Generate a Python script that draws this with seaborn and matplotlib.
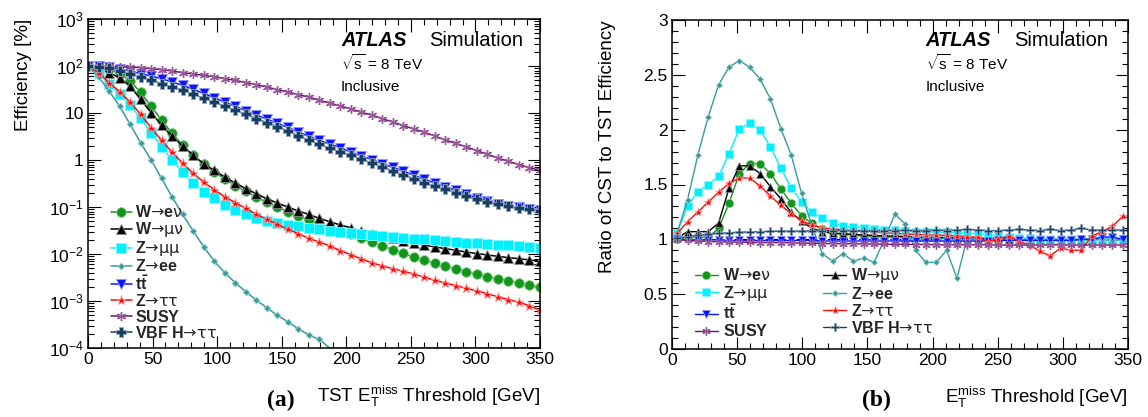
import numpy as np
import pandas as pd
import matplotlib
matplotlib.use("Agg")
import matplotlib.pyplot as plt
import matplotlib.colors as mcolors
from matplotlib.font_manager import FontProperties
import seaborn as sns
from matplotlib.ticker import MultipleLocator, LogLocator, FuncFormatter, NullFormatter

# ---------------- data ----------------
thresholds_a = np.arange(44) * 350 / 43          # TST threshold grid [GeV]
thresholds_b = (np.arange(44) + 0.5) * 350 / 44  # ratio-plot bin centres [GeV]

series_keys = ["wenu", "wmunu", "zmumu", "zee", "ttbar", "ztautau", "susy", "vbf"]
series_labels = [r"$\mathbf{W}$→$\mathbf{e}$ν", r"$\mathbf{W}$→μν", r"$\mathbf{Z}$→μμ",
                 r"$\mathbf{Z}$→$\mathbf{ee}$", r"$\mathbf{t\bar{t}}$", r"$\mathbf{Z}$→ττ",
                 r"$\mathbf{SUSY}$", r"$\mathbf{VBF\ H}$→ττ"]

eff_wenu = [100, 95.2, 84.9, 68.7, 48.0, 27.5, 14.1, 6.98, 3.69, 2.05, 1.26, 0.809, 0.556, 0.401,
            0.284, 0.215, 0.163, 0.126, 0.100, 0.0796, 0.0644, 0.0529, 0.0442, 0.0363, 0.0309,
            0.0262, 0.0215, 0.0177, 0.0148, 0.0124, 0.0103, 0.00863, 0.00733, 0.00633, 0.00546,
            0.00480, 0.00421, 0.00369, 0.00329, 0.00294, 0.00266, 0.00242, 0.00219, 0.00199]
eff_wmunu = [100, 89.2, 72.1, 56.5, 37.5, 19.5, 10.2, 5.47, 3.19, 1.99, 1.26, 0.836, 0.603, 0.435,
             0.324, 0.246, 0.192, 0.150, 0.122, 0.100, 0.0822, 0.0698, 0.0574, 0.0487, 0.0414,
             0.0363, 0.0309, 0.0271, 0.0238, 0.0215, 0.0189, 0.0171, 0.0155, 0.0141, 0.0130,
             0.0120, 0.0110, 0.0102, 0.00952, 0.00892, 0.00836, 0.00796, 0.00745, 0.00710]
eff_zmumu = [100, 72.1, 40.7, 25.0, 14.8, 7.70, 3.82, 1.92, 1.00, 0.547, 0.329, 0.212, 0.153, 0.110,
             0.0878, 0.0698, 0.0593, 0.0512, 0.0449, 0.0414, 0.0388, 0.0363, 0.0335, 0.0309,
             0.0289, 0.0275, 0.0262, 0.0249, 0.0238, 0.0230, 0.0223, 0.0212, 0.0205, 0.0195,
             0.0189, 0.0183, 0.0174, 0.0169, 0.0163, 0.0158, 0.0153, 0.0148, 0.0143, 0.0136]
eff_zee = [100, 59.3, 29.4, 14.1, 5.74, 2.34, 1.00, 0.407, 0.163, 0.0698, 0.0309, 0.0143, 0.00710,
           0.00401, 0.00246, 0.00158, 0.00105, 0.000722, 0.000495, 0.000363, 0.000258, 0.000189,
           0.000153, 0, 0, 0, 0, 0, 0, 0, 0, 0, 0, 0, 0, 0, 0, 0, 0, 0, 0, 0, 0, 0]
eff_ttbar = [100, 98.4, 95.2, 87.8, 78.3, 68.7, 61.3, 53.8, 45.6, 38.8, 31.9, 26.2, 21.2, 17.1,
             13.9, 11.2, 9.07, 7.45, 6.03, 4.95, 3.94, 3.19, 2.62, 2.19, 1.83, 1.48, 1.22, 1.02,
             0.836, 0.698, 0.583, 0.472, 0.388, 0.324, 0.271, 0.226, 0.186, 0.158, 0.134, 0.118,
             0.105, 0.0984, 0.0921, 0.0863]
eff_ztautau = [100, 72.1, 44.2, 28.4, 17.1, 9.37, 4.87, 2.62, 1.46, 0.849, 0.520, 0.340, 0.234,
               0.166, 0.124, 0.0937, 0.0698, 0.0547, 0.0428, 0.0335, 0.0271, 0.0215, 0.0180,
               0.0148, 0.0118, 0.00968, 0.00783, 0.00654, 0.00555, 0.00487, 0.00428, 0.00375,
               0.00319, 0.00275, 0.00242, 0.00212, 0.00186, 0.00163, 0.00143, 0.00122, 0.00107,
               0.000937, 0.000796, 0.000633]
eff_susy = [100, 100, 98.4, 96.8, 95.2, 92.1, 87.8, 83.6, 78.3, 72.1, 67.6, 63.3, 59.3, 53.8, 49.5,
            44.2, 40.1, 35.7, 31.4, 28.0, 24.5, 21.9, 18.6, 16.3, 14.1, 12.2, 10.3, 9.07, 7.57,
            6.43, 5.38, 4.57, 3.88, 3.24, 2.66, 2.26, 1.89, 1.58, 1.32, 1.10, 0.937, 0.796, 0.687,
            0.603]
eff_vbf = [100, 95.2, 89.2, 78.3, 68.7, 58.3, 50.4, 42.1, 35.7, 30.4, 25.0, 20.5, 17.1, 13.9, 11.4,
           9.37, 7.57, 6.23, 5.12, 4.14, 3.24, 2.62, 2.15, 1.77, 1.50, 1.26, 1.03, 0.863, 0.710,
           0.583, 0.480, 0.401, 0.329, 0.280, 0.238, 0.202, 0.171, 0.150, 0.130, 0.116, 0.105,
           0.0968, 0.0892, 0.0822]

ratio_wenu = [1.00, 1.02, 1.02, 1.02, 1.10, 1.33, 1.60, 1.69, 1.69, 1.60, 1.46, 1.33, 1.215, 1.145,
              1.095, 1.06, 1.05, 1.035, 1.03, 1.025, 1.02, 1.02, 1.015, 1.015, 1.01, 1.01, 1.01,
              1.0, 1.0, 1.0, 1.0, 1.0, 1.0, 1.0, 0.995, 1.0, 0.995, 1.0, 0.995, 0.995, 0.995,
              0.995, 0.995, 0.995]
ratio_wmunu = [1.01, 1.07, 1.07, 1.07, 1.15, 1.465, 1.67, 1.67, 1.60, 1.48, 1.37, 1.245, 1.165,
               1.10, 1.07, 1.055, 1.05, 1.045, 1.04, 1.035, 1.03, 1.03, 1.025, 1.02, 1.02, 1.02,
               1.015, 1.015, 1.01, 1.01, 1.01, 1.01, 1.005, 1.005, 1.005, 1.0, 1.0, 1.0, 1.0, 1.0,
               1.0, 1.0, 1.0, 1.0]
ratio_zmumu = [1.06, 1.30, 1.435, 1.50, 1.575, 1.78, 2.01, 2.06, 1.995, 1.845, 1.648, 1.47, 1.343,
               1.25, 1.19, 1.15, 1.12, 1.115, 1.105, 1.095, 1.085, 1.085, 1.075, 1.07, 1.07, 1.065,
               1.065, 1.06, 1.055, 1.05, 1.04, 1.03, 1.02, 1.01, 1.01, 1.0, 1.0, 1.0, 1.0, 1.0,
               1.0, 1.0, 1.0, 1.0]
ratio_zee = [1.06, 1.36, 1.77, 2.12, 2.41, 2.57, 2.63, 2.57, 2.46, 2.28, 2.01, 1.77, 1.42, 1.12,
             0.87, 0.80, 0.87, 0.80, 0.83, 0.79, 1.00, 1.23, 1.14, 0.90, 0.79, 0.79, 0.90, 0.645,
             1.02, 1.00, 0.99, 1.00, 1.00, 0.99, 1.00, 1.00, 0.99, 1.00, 0.99, 1.00, 1.00, 1.00,
             0.99, 1.00]
ratio_ttbar = [1.0, 0.995, 0.995, 0.995, 0.995, 0.99, 0.99, 0.99, 0.99, 0.99, 0.99, 0.99, 0.99,
               0.99, 0.985, 0.985, 0.985, 0.985, 0.985, 0.985, 0.985, 0.985, 0.985, 0.985, 0.985,
               0.985, 0.985, 0.985, 0.985, 0.985, 0.985, 0.99, 0.99, 0.99, 0.99, 0.99, 0.99, 0.99,
               0.99, 1.0, 1.0, 1.02, 1.02, 1.0]
ratio_ztautau = [1.055, 1.16, 1.25, 1.34, 1.43, 1.51, 1.56, 1.56, 1.485, 1.395, 1.31, 1.235, 1.17,
                 1.13, 1.105, 1.095, 1.085, 1.075, 1.075, 1.07, 1.06, 1.055, 1.05, 1.045, 1.04,
                 1.04, 1.035, 1.03, 1.025, 1.02, 0.98, 1.0, 1.03, 0.98, 0.95, 0.89, 0.85, 0.92,
                 0.90, 0.90, 1.03, 1.07, 1.12, 1.21]
ratio_susy = [1.0, 0.99, 0.985, 0.98, 0.978, 0.975, 0.975, 0.972, 0.97, 0.97, 0.97, 0.968, 0.965,
              0.965, 0.962, 0.96, 0.96, 0.96, 0.958, 0.958, 0.955, 0.955, 0.955, 0.952, 0.952,
              0.95, 0.95, 0.95, 0.95, 0.95, 0.95, 0.948, 0.948, 0.948, 0.948, 0.948, 0.95, 0.95,
              0.948, 0.948, 0.948, 0.948, 0.948, 0.948]
ratio_vbf = [1.01, 1.025, 1.035, 1.045, 1.055, 1.06, 1.065, 1.067, 1.07, 1.073, 1.075, 1.075,
             1.075, 1.078, 1.078, 1.08, 1.08, 1.08, 1.08, 1.08, 1.078, 1.08, 1.082, 1.08, 1.08,
             1.085, 1.08, 1.085, 1.09, 1.085, 1.08, 1.08, 1.085, 1.09, 1.085, 1.08, 1.09, 1.08,
             1.085, 1.1, 1.085, 1.085, 1.085, 1.085]

eff = dict(wenu=eff_wenu, wmunu=eff_wmunu, zmumu=eff_zmumu, zee=eff_zee, ttbar=eff_ttbar,
           ztautau=eff_ztautau, susy=eff_susy, vbf=eff_vbf)
ratio = dict(wenu=ratio_wenu, wmunu=ratio_wmunu, zmumu=ratio_zmumu, zee=ratio_zee,
             ttbar=ratio_ttbar, ztautau=ratio_ztautau, susy=ratio_susy, vbf=ratio_vbf)

# ---------------- styles ----------------
colors = dict(wenu="#12961a", wmunu="#000000", zmumu="#00f0ff", zee="#3a9a9a", ttbar="#0a14ff",
              ztautau="#ff0a0a", susy="#6e106e", vbf="#163e66")
markers = dict(wenu="o", wmunu="^", zmumu="s", zee="D", ttbar="v", ztautau="*",
               susy=(6, 2, 0), vbf="P")
msize_a = dict(wenu=7, wmunu=6.5, zmumu=6.5, zee=3.5, ttbar=6.5, ztautau=6.5, susy=6.5, vbf=7)
msize_b = dict(wenu=6, wmunu=5.5, zmumu=5.5, zee=3.2, ttbar=5.5, ztautau=6, susy=6, vbf=6)

sns.set_theme(style="ticks")
plt.rcParams["font.family"] = ["Liberation Sans", "DejaVu Sans"]
plt.rcParams["mathtext.fontset"] = "custom"
plt.rcParams["mathtext.rm"] = "Liberation Sans"
plt.rcParams["mathtext.it"] = "Liberation Sans:italic"
plt.rcParams["mathtext.bf"] = "Liberation Sans:bold"
plt.rcParams["mathtext.sf"] = "Liberation Sans"

W, H = 1148, 417
fig = plt.figure(figsize=(W / 100, H / 100), dpi=100)
axA = fig.add_axes([88 / W, 1 - 348 / H, (540 - 88) / W, (348 - 19) / H])
axB = fig.add_axes([672 / W, 1 - 349 / H, (1128 - 672) / W, (349 - 20) / H])


def light(c, f=0.55):
    r, g, b = mcolors.to_rgb(c)
    return (r + (1 - r) * f, g + (1 - g) * f, b + (1 - b) * f)


def edge(key, c):
    return light(c, 0.3) if key == "susy" else light(c)


def ewidth(key, big):
    if key == "susy":
        return 1.0
    return 0.6 if big else 0.5


ymin_a = 1e-4
for key, lab in zip(series_keys, series_labels):
    c = colors[key]
    vals = np.array(eff[key], dtype=float)
    plot_vals = np.where(vals > 0, vals, ymin_a)
    shown = [i for i, v in enumerate(vals) if v > 0]
    df = pd.DataFrame({"x": thresholds_a, "y": plot_vals})
    sns.lineplot(data=df, x="x", y="y", ax=axA, color=c, marker=markers[key],
                 markersize=msize_a[key], linewidth=1.1, errorbar=None, label=lab,
                 markeredgecolor=edge(key, c), markeredgewidth=ewidth(key, True),
                 markevery=shown, clip_on=True)
    dfb = pd.DataFrame({"x": thresholds_b, "y": ratio[key]})
    sns.lineplot(data=dfb, x="x", y="y", ax=axB, color=c, marker=markers[key],
                 markersize=msize_b[key], linewidth=1.0, errorbar=None, label=lab,
                 markeredgecolor=edge(key, c), markeredgewidth=ewidth(key, False))

axB.axhline(1.0, color="black", lw=0.8, ls=(0, (4, 3)), zorder=1)

# ---------------- axes ----------------
axA.set_yscale("log")
axA.set_xlim(0, 350)
axA.set_ylim(ymin_a, 1e3)
axB.set_xlim(0, 350)
axB.set_ylim(0, 3)

for ax in (axA, axB):
    ax.xaxis.set_major_locator(MultipleLocator(50))
    ax.xaxis.set_minor_locator(MultipleLocator(10))
    ax.tick_params(which="both", direction="in", top=True, right=True, labelsize=12.5,
                   width=0.8, color="black", labelcolor="black")
    ax.tick_params(axis="x", which="major", length=9, pad=3)
    ax.tick_params(axis="x", which="minor", length=4.5)
    ax.tick_params(axis="y", which="major", length=9, pad=3)
    ax.tick_params(axis="y", which="minor", length=4.5)
    for s in ax.spines.values():
        s.set_linewidth(1.1)
        s.set_color("black")
    ax.set_facecolor("white")

axA.yaxis.set_major_locator(LogLocator(base=10, numticks=20))
axA.yaxis.set_minor_locator(LogLocator(base=10, subs=np.arange(2, 10), numticks=20))


def log_fmt(v, pos):
    e = int(round(np.log10(v)))
    if e == 0:
        return "1"
    if e == 1:
        return "10"
    return r"$10^{%d}$" % e


axA.yaxis.set_major_formatter(FuncFormatter(log_fmt))
axA.yaxis.set_minor_formatter(NullFormatter())
axB.yaxis.set_major_locator(MultipleLocator(0.5))
axB.yaxis.set_minor_locator(MultipleLocator(0.1))
axB.yaxis.set_major_formatter(FuncFormatter(lambda v, p: "%g" % v))

axA.set_xlabel(r"TST $\mathrm{E}_{\mathrm{T}}^{\mathrm{miss}}$ Threshold [GeV]", loc="right",
               fontsize=13.5, labelpad=12, color="black")
axB.set_xlabel(r"$\mathrm{E}_{\mathrm{T}}^{\mathrm{miss}}$ Threshold [GeV]", loc="right",
               fontsize=13.5, labelpad=12, color="black")
axA.set_ylabel("Efficiency [%]", loc="top", fontsize=13.5, labelpad=12, color="black")
axB.set_ylabel("Ratio of CST to TST Efficiency", loc="top", fontsize=13.5, labelpad=20,
               color="black")

# ---------------- legends ----------------
leg_font = FontProperties(family="DejaVu Sans", size=11.5)
hA, lA = axA.get_legend_handles_labels()
axA.legend(hA, lA, loc="lower left", bbox_to_anchor=(0.05, 0.022), frameon=False, prop=leg_font,
           handlelength=1.35, handletextpad=0.2, labelspacing=0.0, borderaxespad=0, borderpad=0)

hB, lB = axB.get_legend_handles_labels()
order = [0, 2, 4, 6, 1, 3, 5, 7]
axB.legend([hB[i] for i in order], [lB[i] for i in order], loc="lower left", ncol=2,
           bbox_to_anchor=(0.05, 0.03), frameon=False, prop=leg_font, handlelength=1.45,
           handletextpad=0.3, labelspacing=0.05, columnspacing=3.3, borderaxespad=0, borderpad=0)

# ---------------- annotations ----------------
def ftxt(x, y, s, **kw):
    fig.text(x / W, 1 - y / H, s, va="center", ha="left", color="black", **kw)


for x0 in (341, 925.7):
    ftxt(x0, 40, "ATLAS", fontsize=14.5, fontweight="bold", fontstyle="italic")
    ftxt(x0 + 88, 40, "Simulation", fontsize=14.5)
    ftxt(x0, 63, r"$\sqrt{\mathrm{s}}$ = 8 TeV", fontsize=11)
    ftxt(x0, 87, "Inclusive", fontsize=11)

fig.text(281 / W, 1 - 400 / H, "(a)", ha="center", va="center", fontsize=17, fontweight="bold",
         family="Liberation Serif", color="black")
fig.text(876 / W, 1 - 400 / H, "(b)", ha="center", va="center", fontsize=17, fontweight="bold",
         family="Liberation Serif", color="black")

fig.savefig("out.png", dpi=100, facecolor="white")
